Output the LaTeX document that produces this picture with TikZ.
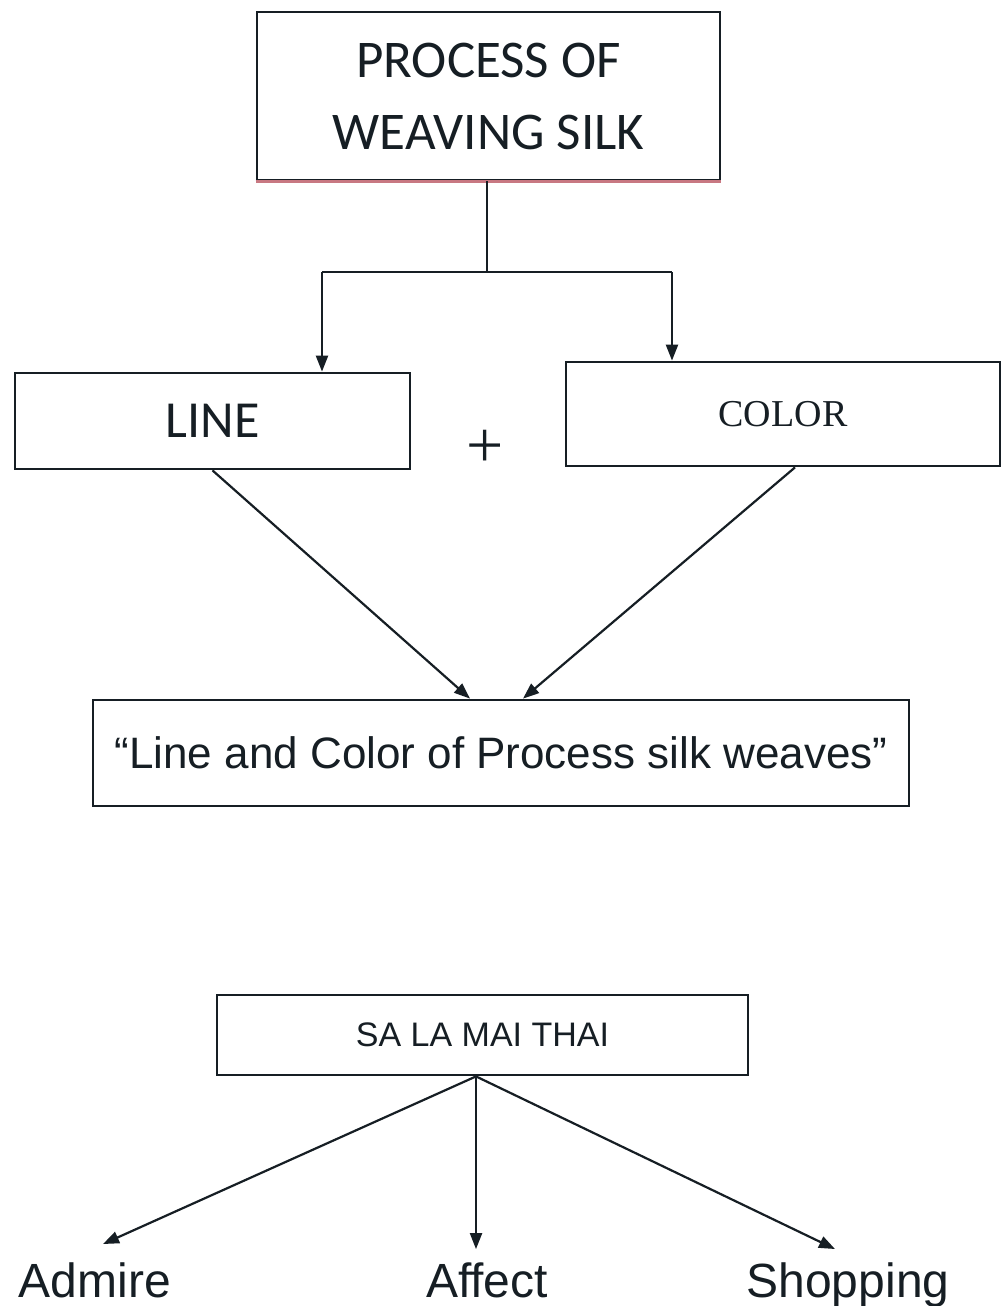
\documentclass[tikz,border=0pt]{standalone}
\usepackage{fontspec}
\setmainfont{Liberation Sans}
\newfontfamily\calib{Carlito}
\newfontfamily\arialf{Liberation Sans}
\newfontfamily\tnrf{Liberation Serif}
\usetikzlibrary{arrows.meta}
\definecolor{ink}{RGB}{22,30,36}
\definecolor{pinkedge}{RGB}{200,120,130}
\tikzset{
  box/.style={draw=ink, line width=2.8pt, rectangle, inner sep=0pt, text=ink, align=center},
  conn/.style={draw=ink, line width=2.2pt},
  arr/.style={conn, -{Triangle[length=16pt,width=12pt]}},
  lbl/.style={text=ink, inner sep=0pt, anchor=base, font=\arialf\fontsize{48}{56}\selectfont}
}
\begin{document}
\begin{tikzpicture}[x=1pt,y=-1pt]
\useasboundingbox (0,0) rectangle (1002,1306);
\fill[white] (0,0) rectangle (1002,1306);
% boxes
\node[box, minimum width=463pt, minimum height=168pt, font=\calib\fontsize{53}{72}\selectfont] (top) at (488.5,96) {PROCESS OF\\WEAVING SILK};
\draw[pinkedge, line width=2.8pt] (top.south west) -- (top.south east);
\node[box, minimum width=395pt, minimum height=96pt, font=\calib\fontsize{52}{60}\selectfont] (line) at (212.5,421) {LINE};
\node[box, minimum width=434pt, minimum height=104pt, font=\tnrf\fontsize{38}{44}\selectfont] (color) at (783,414) {COLOR};
\node[text=ink, inner sep=0pt, font=\tnrf\fontsize{66}{70}\selectfont] (plus) at (485,449) {+};
\node[box, minimum width=816pt, minimum height=106pt, font=\arialf\fontsize{44}{50}\selectfont] (quote) at (501,753) {“Line and Color of Process silk weaves”};
\node[box, minimum width=531pt, minimum height=80pt, font=\arialf\fontsize{34}{40}\selectfont] (sa) at (482.5,1035) {SA LA MAI THAI};
% labels
\node[lbl] (admire) at (95,1297) {Admire};
\node[lbl] (affect) at (487,1297) {Affect};
\node[lbl] (shop) at (848,1297) {Shopping};
% connectors top
\coordinate (j) at (487,272);
\coordinate (jl) at (322,272);
\coordinate (jr) at (672,272);
\draw[conn] (top.south -| j) -- (j);
\draw[conn] (jl) -- (jr);
\draw[arr] (jl) -- (jl |- line.north);
\draw[arr] (jr) -- (jr |- color.north);
% to quote box
\draw[arr] (line.south) -- ([xshift=-31pt]quote.north);
\draw[arr] ([xshift=12pt]color.south) -- ([xshift=22pt]quote.north);
% sa arrows
\coordinate (sa0) at ([xshift=-6.5pt]sa.south);
\draw[arr] (sa0) -- ([xshift=8pt,yshift=18pt]admire.north);
\draw[arr] (sa0) -- ([yshift=13pt]affect.north -| sa0);
\draw[arr] (sa0) -- ([xshift=-13pt,yshift=13pt]shop.north);
\end{tikzpicture}
\end{document}
